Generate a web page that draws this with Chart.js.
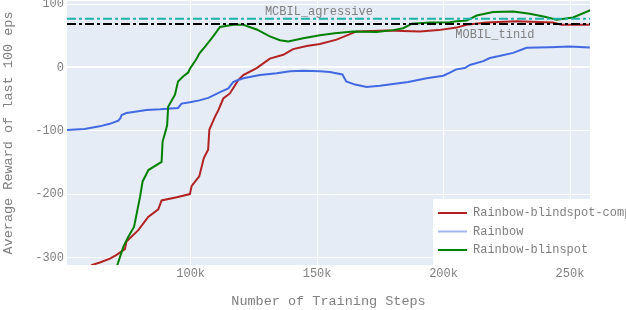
<!DOCTYPE html>
<html>
<head>
<meta charset="utf-8">
<script src="https://cdn.jsdelivr.net/npm/chart.js@4.4.0/dist/chart.umd.min.js"></script>
<style>
  html, body { margin: 0; padding: 0; background: #fff; }
  #wrap { width: 626px; height: 310px; }
</style>
</head>
<body>
<div id="wrap"><canvas id="rewardChart" width="626" height="310"></canvas></div>
<script>
// reward curves

const FONT = '"Liberation Mono", "Courier New", monospace';
const GREY = '#7f7f7f';

const xMin = 51100, xMax = 257900;
const yMin = -312, yMax = 105;
const xTicks = [100000, 150000, 200000, 250000];
const yTicks = [-300, -200, -100, 0, 100];

const compSteps = [59000, 60900, 64100, 68100, 70700, 74000, 74600, 79300, 83200, 87200, 88500, 94500, 99700, 100400, 103400, 105200, 106900, 107400, 109600, 111000, 112900, 115500, 118800, 120800, 126100, 131300, 136600, 140500, 145900, 151100, 157700, 165600, 177500, 190600, 198000, 205100, 209100, 217000, 228800, 243300, 246600, 257800];
const compReward = [-330, -312, -308, -302, -296, -287, -275, -257, -236, -224, -210, -205, -200, -187, -172, -143, -130, -98, -78, -67, -49, -41, -20, -12, -1, 14, 20, 29, 34, 37, 44, 57, 58.5, 57, 59, 63, 67.5, 71, 73, 71, 67.5, 67.5];

const rainbowSteps = [50000, 58000, 64000, 68000, 71400, 72200, 72700, 74600, 78000, 82500, 88000, 95000, 96400, 99700, 103400, 107000, 111600, 114900, 116800, 118000, 120800, 127400, 134000, 139300, 144500, 151100, 155000, 160000, 161500, 165000, 169600, 174800, 180000, 186000, 193300, 199900, 202500, 205000, 208400, 210400, 215700, 218300, 222000, 227500, 232800, 242000, 249900, 257800];
const rainbowReward = [-99, -97, -93, -89, -84, -80, -75, -72, -70, -67, -66, -64, -57, -55, -52, -48, -39, -33, -23, -21, -17, -12, -9, -6, -5, -6, -7, -11, -22, -27, -31, -29, -26, -23, -17, -13, -8, -3, -1, 4, 10, 15, 18, 23, 31, 32, 33, 31.5];

const blinSteps = [69500, 71000, 73400, 75400, 77600, 80000, 81000, 83300, 88500, 88900, 90200, 90700, 91100, 93800, 95000, 97100, 99000, 99700, 102400, 103400, 105700, 108900, 111600, 116800, 120800, 126100, 131300, 135300, 138600, 144500, 151100, 157000, 164300, 173500, 180000, 184000, 187400, 194600, 202500, 205100, 209100, 213100, 219600, 227500, 234100, 240000, 244700, 251200, 257800, 259000];
const blinReward = [-340, -312, -283, -267, -252, -204, -180, -162, -149, -117, -99, -91, -62, -43, -22, -14, -8, -2, 14, 22, 33, 49, 64, 67.5, 67.5, 60, 49, 43, 41, 46, 51, 54, 57, 56, 59, 62, 69, 71, 71.5, 73, 74, 82, 87.5, 88.5, 85, 80, 75.5, 79, 90, 92];

const mcbilAggressive = 77;
const mobilTimid = 68.5;

const zip = (xs, ys) => xs.map((x, i) => ({ x: x, y: ys[i] }));
const hline = v => [{ x: xMin, y: v }, { x: xMax, y: v }];

const legendItems = [
  { label: 'Rainbow-blindspot-comp', color: '#b22222' },
  { label: 'Rainbow', color: '#a3b5ef' },
  { label: 'Rainbow-blinspot', color: '#008000' }
];

const plotBackground = {
  id: 'plotBackground',
  beforeDraw(chart) {
    const { ctx, chartArea: a } = chart;
    ctx.save();
    ctx.fillStyle = '#e5ecf6';
    ctx.fillRect(a.left, a.top, a.right - a.left, a.bottom - a.top);
    ctx.restore();
  }
};

const lineLabels = {
  id: 'lineLabels',
  afterDatasetsDraw(chart) {
    const { ctx, scales: { x, y } } = chart;
    ctx.save();
    ctx.font = '12px ' + FONT;
    ctx.fillStyle = GREY;
    ctx.textAlign = 'center';
    ctx.textBaseline = 'middle';
    ctx.fillText('MCBIL_agressive', x.getPixelForValue(150700), y.getPixelForValue(mcbilAggressive) - 7);
    ctx.fillText('MOBIL_tinid', x.getPixelForValue(220300), y.getPixelForValue(mobilTimid) + 11);
    ctx.restore();
  }
};

const boxLegend = {
  id: 'boxLegend',
  afterDraw(chart) {
    const { ctx } = chart;
    ctx.save();
    ctx.fillStyle = '#fff';
    ctx.fillRect(433, 199, 200, 66);
    ctx.font = '12px ' + FONT;
    ctx.textBaseline = 'middle';
    legendItems.forEach((item, i) => {
      const ly = 213 + i * 18.5;
      ctx.strokeStyle = item.color;
      ctx.lineWidth = 2;
      ctx.beginPath();
      ctx.moveTo(438, ly);
      ctx.lineTo(467, ly);
      ctx.stroke();
      ctx.fillStyle = GREY;
      ctx.fillText(item.label, 473, ly);
    });
    ctx.restore();
  }
};

const baseLine = { pointRadius: 0, borderWidth: 2, tension: 0, fill: false };

new Chart(document.getElementById('rewardChart'), {
  type: 'line',
  data: {
    datasets: [
      { ...baseLine, label: 'MCBIL_agressive', data: hline(mcbilAggressive), borderColor: '#20b2aa', borderDash: [9, 3, 3, 3] },
      { ...baseLine, label: 'MOBIL_tinid', data: hline(mobilTimid), borderColor: '#000000', borderDash: [9, 3, 3, 3] },
      { ...baseLine, label: 'Rainbow-blinspot', data: zip(blinSteps, blinReward), borderColor: '#008000' },
      { ...baseLine, label: 'Rainbow', data: zip(rainbowSteps, rainbowReward), borderColor: '#4169e1' },
      { ...baseLine, label: 'Rainbow-blindspot-comp', data: zip(compSteps, compReward), borderColor: '#b22222' }
    ]
  },
  options: {
    responsive: false,
    animation: false,
    devicePixelRatio: 1,
    layout: { padding: { top: 1, right: 36, bottom: 0, left: 0 } },
    plugins: { legend: { display: false }, tooltip: { enabled: false } },
    scales: {
      x: {
        type: 'linear',
        min: xMin,
        max: xMax,
        afterBuildTicks: s => { s.ticks = xTicks.map(v => ({ value: v })); },
        afterFit: s => { s.height = 45; s.paddingLeft = 0; s.paddingRight = 0; },
        ticks: {
          font: { family: FONT, size: 12 },
          color: GREY,
          padding: 2,
          maxRotation: 0,
          autoSkip: false,
          callback: v => (v / 1000) + 'k'
        },
        grid: { color: '#ffffff', lineWidth: 1, drawTicks: false },
        border: { display: false },
        title: {
          display: true,
          text: 'Number of Training Steps',
          font: { family: FONT, size: 13.5 },
          color: GREY,
          padding: 0
        }
      },
      y: {
        min: yMin,
        max: yMax,
        afterBuildTicks: s => { s.ticks = yTicks.map(v => ({ value: v })); },
        afterFit: s => { s.width = 67; s.paddingTop = 0; s.paddingBottom = 0; },
        ticks: {
          font: { family: FONT, size: 12 },
          color: GREY,
          padding: 3,
          autoSkip: false
        },
        grid: {
          color: '#ffffff',
          lineWidth: c => (c.tick && c.tick.value === 0 ? 2 : 1),
          drawTicks: false
        },
        border: { display: false },
        title: {
          display: true,
          text: 'Average Reward of last 100 eps',
          font: { family: FONT, size: 13.5 },
          color: GREY,
          padding: 0
        }
      }
    }
  },
  plugins: [plotBackground, lineLabels, boxLegend]
});
</script>
</body>
</html>
